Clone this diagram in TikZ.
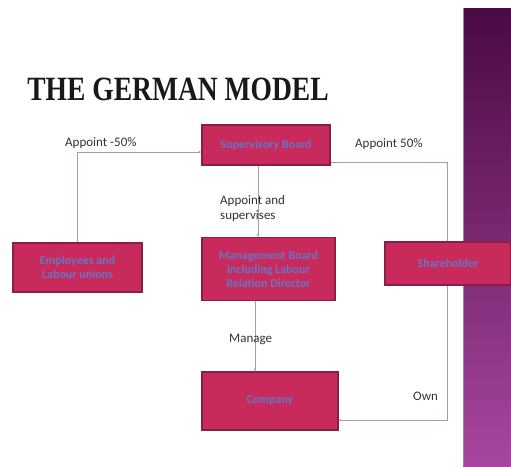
\documentclass[tikz,border=0pt]{standalone}
\usepackage{fontspec}
\setmainfont{Carlito}
\newfontfamily\titlefont{Liberation Serif}
\usetikzlibrary{arrows.meta}
\definecolor{boxfill}{HTML}{C82A5C}
\definecolor{boxedge}{HTML}{8A1F45}
\definecolor{boxtext}{HTML}{6675C8}
\definecolor{linkgray}{HTML}{B8949E}
\definecolor{stripTop}{HTML}{4A0A44}
\definecolor{stripBottom}{HTML}{A8469F}
\tikzset{
  board/.style={draw=boxedge, line width=1.2pt, fill=boxfill, inner sep=0pt,
    text=boxtext, font=\fontsize{12}{14}\selectfont\bfseries, align=center},
  link/.style={draw=linkgray, line width=0.6pt},
  tiparrow/.style={-{Stealth[length=3pt,width=2.5pt]}},
  tag/.style={font=\fontsize{13}{15}\selectfont, text=black!80, inner sep=0pt}
}
\begin{document}
\begin{tikzpicture}[x=1pt,y=-1pt]
  \useasboundingbox (0,0) rectangle (511,466);
  \fill[white] (0,0) rectangle (511,466);
  % decorative side band
  \shade[top color=stripTop, bottom color=stripBottom] (463,8) rectangle (511,466);
  \draw[black!45, line width=0.8pt] (463.5,8) -- (463.5,466);

  % title
  \node[font=\titlefont\bfseries\fontsize{34}{38}\selectfont, text=black!90,
        xscale=0.81, transform shape, inner sep=0pt] (title) at (178,89) {THE GERMAN MODEL};

  % boards
  \node[board, minimum width=128pt, minimum height=40pt] (sup) at (266,145) {Supervisory Board};
  \node[board, minimum width=129pt, minimum height=49pt] (emp) at (77.5,267.5) {Employees and\\Labour unions};
  \node[board, minimum width=133pt, minimum height=63pt] (mgmt) at (268.5,269) {Management Board\\including Labour\\Relation Director};
  \node[board, minimum width=126pt, minimum height=43pt] (share) at (448,263.5) {Shareholder};
  \node[board, minimum width=136pt, minimum height=58pt] (comp) at (270,401) {Company};

  % bend points
  \coordinate (empUp) at (77,152);
  \coordinate (supRight) at (447,162);
  \coordinate (ownCorner) at (447,420);

  % connectors
  \draw[link, tiparrow] (emp.north -| empUp) -- (empUp) -- (sup.west |- empUp);
  \draw[link, tiparrow] (sup.south -| 258,0) -- (mgmt.north -| 258,0);
  \draw[link, tiparrow] (mgmt.south -| 255,0) -- (comp.north -| 255,0);
  \draw[link] (sup.east |- supRight) -- (supRight) -- (share.north -| supRight);
  \draw[link, tiparrow] (share.south -| ownCorner) -- (ownCorner) -- (comp.east |- ownCorner);

  % labels
  \node[tag, anchor=west] (l1) at (65,143) {Appoint -50\%};
  \node[tag, anchor=west] (l2) at (355,144) {Appoint 50\%};
  \node[tag, anchor=west, align=left] (l3) at (220,209) {Appoint and\\supervises};
  \node[tag, anchor=west] (l4) at (229,339) {Manage};
  \node[tag, anchor=west] (l5) at (413,396) {Own};
\end{tikzpicture}
\end{document}
